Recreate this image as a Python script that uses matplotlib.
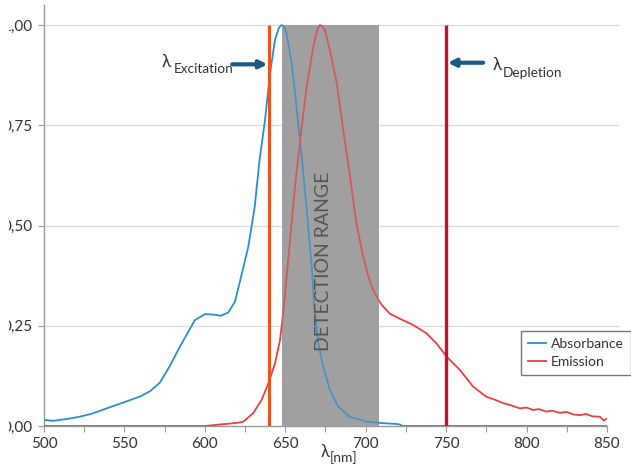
import matplotlib
matplotlib.use("Agg")
import matplotlib.pyplot as plt
from matplotlib.patches import FancyArrowPatch, Rectangle

plt.rcParams['font.family'] = ['Lato', 'DejaVu Sans']

# ---- data ----
abs_nm = [500, 506, 515, 522, 530, 539, 551, 560, 566, 572, 578, 584.5, 589.7, 593.8,
          600, 605, 610, 614.5, 618.7, 621.8, 627, 631, 634, 637.4, 640.5, 643.6,
          646, 647.7, 649.5, 650.8, 654, 657, 660, 663.3, 666.4, 668, 670.5, 673.6,
          677.7, 683, 690, 700.6, 710.9, 719, 721, 723, 850]
abs_val = [0.015, 0.013, 0.018, 0.023, 0.031, 0.044, 0.061, 0.074, 0.087, 0.108, 0.148,
           0.198, 0.235, 0.264, 0.279, 0.278, 0.275, 0.283, 0.31, 0.36, 0.447, 0.547,
           0.663, 0.763, 0.879, 0.963, 0.993, 1.0, 0.995, 0.979, 0.904, 0.796, 0.68,
           0.54, 0.40, 0.30, 0.206, 0.148, 0.09, 0.048, 0.023, 0.011, 0.007, 0.005,
           0.004, 0.0, 0.0]

em_nm = [500, 600, 610, 615.6, 621.8, 624, 630, 635.3, 639.4, 643.6, 646.7, 648.7,
         651.5, 656, 660, 663.3, 667.4, 670, 671.5, 673, 674.6, 677.7, 682, 686, 690,
         694, 698, 701.5, 704, 707.8, 710, 715, 721, 729.5, 737.8, 744, 750.3, 758.5,
         766.8, 775, 780, 785.5, 790, 795.8, 800, 804, 808, 812, 816, 820.7, 825, 829,
         833, 837, 841, 845.6, 848, 850]
em_val = [0.0, 0.0, 0.004, 0.006, 0.009, 0.011, 0.032, 0.065, 0.106, 0.156, 0.214,
          0.281, 0.40, 0.597, 0.738, 0.846, 0.946, 0.99, 1.0, 0.997, 0.988, 0.938,
          0.855, 0.738, 0.63, 0.51, 0.43, 0.375, 0.345, 0.315, 0.302, 0.28, 0.268,
          0.252, 0.231, 0.206, 0.173, 0.14, 0.098, 0.073, 0.066, 0.057, 0.052, 0.044,
          0.046, 0.040, 0.042, 0.036, 0.038, 0.033, 0.035, 0.029, 0.027, 0.030, 0.024,
          0.023, 0.014, 0.018]

detect_range = [648, 708]
excitation_nm = 640
depletion_nm = 750

x_ticks = [500, 550, 600, 650, 700, 750, 800, 850]
y_ticks = [0.0, 0.25, 0.5, 0.75, 1.0]
y_ticklabels = ['0,00', '0,25', '0,50', '0,75', '1,00']

# ---- figure ----
fig = plt.figure(figsize=(6.31, 4.65), dpi=100)
ax = fig.add_axes([44/631, 39/465, 563/631, 421/465])
ax.set_xlim(500, 850)
ax.set_ylim(0, 1.05)

for s in ['top', 'right']:
    ax.spines[s].set_visible(False)
for s in ['left', 'bottom']:
    ax.spines[s].set_color('#9a9a9a')
    ax.spines[s].set_linewidth(1.0)

ax.set_yticks(y_ticks)
ax.set_yticklabels(y_ticklabels)
ax.set_xticks(x_ticks)
ax.set_xticks(range(500, 851, 25), minor=True)
ax.tick_params(axis='both', colors='#9a9a9a', labelcolor='#333333', labelsize=11,
               length=4, width=0.8)
ax.tick_params(axis='x', which='minor', length=4, width=0.8, colors='#9a9a9a')
ax.tick_params(axis='y', pad=4)
ax.tick_params(axis='x', pad=4)
for yv in y_ticks[1:]:
    ax.axhline(yv, color='#dddddd', lw=1.0, zorder=0, xmax=1.02, clip_on=False)

# detection range (base)
ax.fill_between(detect_range, 0, 1.0, color='#a4a4a4', lw=0, zorder=1)

ax.plot(abs_nm, abs_val, color='#2a8fd0', lw=1.3, zorder=3, label='Absorbance')
ax.plot(em_nm, em_val, color='#e8413f', lw=1.3, zorder=3, label='Emission')

# translucent overlay to mute curves in the detection range
ax.fill_between(detect_range, 0, 1.0, color='#9a9a9a', alpha=0.3, lw=0, zorder=4)

ax.vlines(excitation_nm, 0, 1.0, color='#f4511e', lw=2.2, zorder=5)
ax.vlines(depletion_nm, 0, 1.0, color='#c8102e', lw=2.4, zorder=5)

ax.text(674, 0.41, 'DETECTION RANGE', rotation=90, ha='center', va='center',
        fontsize=14, color='#555555', zorder=6)

arrow_col = '#1b5a80'
a1 = FancyArrowPatch((617, 0.902), (639, 0.902), arrowstyle='-|>', mutation_scale=11,
                     color=arrow_col, lw=3, zorder=6, shrinkA=0, shrinkB=0)
ax.add_patch(a1)
a2 = FancyArrowPatch((773, 0.906), (751, 0.906), arrowstyle='-|>', mutation_scale=11,
                     color=arrow_col, lw=3, zorder=6, shrinkA=0, shrinkB=0)
ax.add_patch(a2)

# labels with subscripts (figure pixel coords)
def ftxt(xp, yp, s, size, **kw):
    fig.text(xp/631, 1 - yp/465, s, fontsize=size, color='#333333', **kw)

ftxt(162, 67, 'λ', 12.5)
ftxt(174, 73, 'Excitation', 9.8)
ftxt(493, 70, 'λ', 12.5)
ftxt(503, 77, 'Depletion', 9.8)
ftxt(321, 457, 'λ', 12)
ftxt(330, 462, '[nm]', 10)

leg = fig.legend(loc='upper right', bbox_to_anchor=(631/631, 1 - 331/465),
                 fontsize=10, frameon=True, fancybox=False, handlelength=1.3,
                 handletextpad=0.4, borderpad=0.5, labelspacing=0.45, borderaxespad=0)
leg.get_frame().set_edgecolor('#555555')
leg.get_frame().set_linewidth(1.0)
for t in leg.get_texts():
    t.set_color('#333333')

# the reference image is cropped at the left edge
fig.add_artist(Rectangle((0, 0), 9/631, 1, transform=fig.transFigure,
                         facecolor='white', edgecolor='none', zorder=20))

fig.savefig('out.png', dpi=100)
